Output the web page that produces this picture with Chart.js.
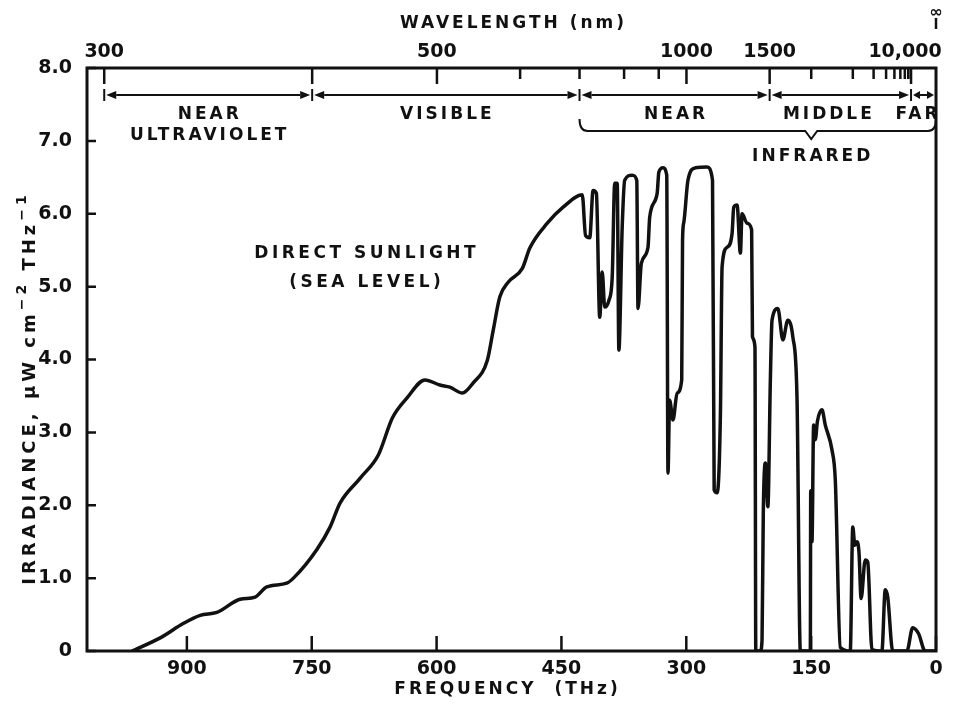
<!DOCTYPE html>
<html>
<head>
<meta charset="utf-8">
<script src="https://cdn.jsdelivr.net/npm/chart.js@4.4.0/dist/chart.umd.min.js"></script>
<style>
  body { margin: 0; background: #fff; }
  #wrap { width: 954px; height: 705px; }
</style>
</head>
<body>
<div id="wrap"><canvas id="chart" width="954" height="705"></canvas></div>
<script>
// direct sunlight at sea level
const frequencyTHz = [
  966, 932, 904, 884, 864, 836, 818, 804, 780, 772,
  744, 728, 716, 692, 670, 653, 635, 614, 596, 584,
  569, 556, 539, 532, 524, 514, 497, 488, 467, 448,
  425, 421, 416, 412, 408, 404, 401, 398, 393, 389,
  386, 383, 381, 377, 374, 365, 359.5, 358, 354, 346,
  344, 335, 333, 328, 323.5, 322, 320, 316, 311, 305.5,
  304.5, 303, 298, 289, 275, 268.5, 266.5, 263, 259, 257,
  251, 245, 243, 239, 235, 233, 227, 221.5, 220.5, 217.5,
  216.5, 211, 209, 207.5, 205, 202, 199, 197, 190, 184,
  178, 172, 167, 163, 151, 150.5, 149, 147, 145, 142.5,
  137, 133, 125, 121, 115, 103, 100, 97.5, 95, 92.5,
  90, 85, 82, 77, 65, 61, 58, 52, 35, 28,
  21, 13, 0
]
const irradiance = [
  0, 0.18, 0.38, 0.49, 0.53, 0.71, 0.74, 0.88, 0.93, 1.0,
  1.39, 1.70, 2.03, 2.37, 2.69, 3.20, 3.48, 3.72, 3.65, 3.62,
  3.54, 3.68, 3.99, 4.40, 4.86, 5.06, 5.25, 5.53, 5.87, 6.09,
  6.26, 5.70, 5.67, 6.32, 6.28, 4.58, 5.20, 4.72, 4.81, 5.13,
  6.42, 6.42, 4.13, 5.82, 6.46, 6.53, 6.46, 4.70, 5.32, 5.54,
  5.95, 6.28, 6.57, 6.63, 6.53, 2.44, 3.44, 3.17, 3.54, 3.72,
  5.64, 5.88, 6.46, 6.63, 6.64, 6.46, 2.21, 2.17, 3.26, 5.27,
  5.54, 5.73, 6.09, 6.12, 5.46, 6.0, 5.87, 5.78, 4.31, 4.17,
  0, 0, 0.15, 1.89, 2.58, 1.98, 3.72, 4.54, 4.70, 4.27,
  4.54, 4.31, 3.48, 0, 0, 2.2, 1.5, 3.1, 2.9, 3.15,
  3.31, 3.1, 2.76, 2.35, 0.05, 0, 1.70, 1.45, 1.50, 1.35,
  0.72, 1.25, 1.22, 0.02, 0, 0.84, 0.74, 0, 0, 0.32,
  0.24, 0, 0
]

const freqTicks = [900, 750, 600, 450, 300, 150, 0]
const irradianceTicks = [0, 1, 2, 3, 4, 5, 6, 7, 8]
const wavelengthTicks = [300, 400, 500, 600, 700, 800, 900, 1000, 1500, 2000, 3000, 4000, 5000, 6000, 7000, 8000, 9000, 10000]
const wavelengthLabels = ['300', '', '500', '', '', '', '', '1000', '1500', '', '', '', '', '', '', '', '', '10,000']
const bandEdgesNm = [300, 400, 700, 1500, 10000, Infinity]
const bandNames = [['NEAR', 'ULTRAVIOLET'], ['VISIBLE'], ['NEAR'], ['MIDDLE'], ['FAR']]

const ink = '#111'
const FONT = '"DejaVu Sans", sans-serif'
const C_NM_THZ = 299792.458
const toTHz = nm => (nm === Infinity ? 0 : C_NM_THZ / nm)

function spacedText(ctx, text, cx, cy, size, spacing) {
  ctx.font = `bold ${size}px ${FONT}`
  ctx.letterSpacing = spacing + 'px'
  ctx.textAlign = 'center'
  ctx.textBaseline = 'middle'
  ctx.fillText(text, cx + spacing / 2, cy)
}

// text with raised exponents, centred on 0,0 of the current transform
function runsText(ctx, runs, spacing) {
  ctx.letterSpacing = spacing + 'px'
  let total = 0
  runs.forEach(r => {
    ctx.font = `bold ${r.size}px ${FONT}`
    r.w = ctx.measureText(r.text).width
    total += r.w
  })
  let x = -total / 2
  ctx.textAlign = 'left'
  ctx.textBaseline = 'middle'
  runs.forEach(r => {
    ctx.font = `bold ${r.size}px ${FONT}`
    ctx.fillText(r.text, x, r.dy)
    x += r.w
  })
}

const paperPlugin = {
  id: 'paper',
  beforeDraw(chart) {
    const ctx = chart.ctx
    ctx.save()
    ctx.fillStyle = '#fff'
    ctx.fillRect(0, 0, chart.width, chart.height)
    ctx.restore()
  },
  afterDraw(chart) {
    const { ctx, chartArea: a, scales } = chart
    const x = scales.x
    const y = scales.y
    ctx.save()
    ctx.strokeStyle = ink
    ctx.fillStyle = ink
    ctx.lineCap = 'butt'

    // frame
    ctx.lineWidth = 3
    ctx.strokeRect(a.left, a.top, a.right - a.left, a.bottom - a.top)

    // inward tick marks
    ctx.lineWidth = 2.5
    ctx.beginPath()
    irradianceTicks.forEach(v => {
      const py = y.getPixelForValue(v)
      ctx.moveTo(a.left, py); ctx.lineTo(a.left + 9, py)
    })
    freqTicks.forEach(v => {
      const px = x.getPixelForValue(v)
      ctx.moveTo(px, a.bottom); ctx.lineTo(px, a.bottom - 15)
    })
    wavelengthTicks.forEach((nm, i) => {
      const px = x.getPixelForValue(toTHz(nm))
      const len = wavelengthLabels[i] || nm === 400 ? 16 : 11
      ctx.moveTo(px, a.top); ctx.lineTo(px, a.top + len)
    })
    ctx.stroke()

    // wavelength tick labels along the top
    ctx.font = `bold 19px ${FONT}`
    ctx.letterSpacing = '0px'
    ctx.textAlign = 'center'
    ctx.textBaseline = 'middle'
    wavelengthTicks.forEach((nm, i) => {
      if (!wavelengthLabels[i]) return
      const px = x.getPixelForValue(toTHz(nm)) + (nm === 10000 ? -6 : 0)
      ctx.fillText(wavelengthLabels[i], px, 52)
    })

    // infinite wavelength marker
    const pInf = x.getPixelForValue(0)
    ctx.lineWidth = 2.5
    ctx.beginPath()
    ctx.moveTo(pInf, 18); ctx.lineTo(pInf, 29)
    ctx.stroke()
    ctx.font = `bold 16px ${FONT}`
    ctx.fillText('\u221e', pInf, 13)

    // spectral bands with arrows
    const rowY = 95
    const edges = bandEdgesNm.map(nm => x.getPixelForValue(toTHz(nm)))
    ctx.lineWidth = 2
    edges.forEach(px => {
      ctx.beginPath(); ctx.moveTo(px, rowY - 6); ctx.lineTo(px, rowY + 6); ctx.stroke()
    })
    for (let i = 0; i < edges.length - 1; i++) {
      const l = edges[i] + 2, r = edges[i + 1] - 2
      const head = Math.min(10, (r - l) / 3)
      ctx.beginPath(); ctx.moveTo(l + head, rowY); ctx.lineTo(r - head, rowY); ctx.stroke()
      ctx.beginPath()
      ctx.moveTo(l, rowY); ctx.lineTo(l + head, rowY - 4); ctx.lineTo(l + head, rowY + 4); ctx.closePath()
      ctx.moveTo(r, rowY); ctx.lineTo(r - head, rowY - 4); ctx.lineTo(r - head, rowY + 4); ctx.closePath()
      ctx.fill()
    }
    const nameShift = [0, 0, 0, -13, -7]
    bandNames.forEach((lines, i) => {
      const cx = (edges[i] + edges[i + 1]) / 2 + nameShift[i]
      lines.forEach((t, j) => spacedText(ctx, t, cx, 115 + j * 21, 17, 3))
    })

    // infrared bracket
    const bl = edges[2], br = edges[5]
    const notch = x.getPixelForValue(toTHz(2000))
    ctx.lineWidth = 2
    ctx.beginPath()
    ctx.moveTo(bl, 119)
    ctx.quadraticCurveTo(bl, 131, bl + 8, 131)
    ctx.lineTo(notch - 6, 131)
    ctx.lineTo(notch, 139)
    ctx.lineTo(notch + 6, 131)
    ctx.lineTo(br - 8, 131)
    ctx.quadraticCurveTo(br, 131, br, 119)
    ctx.stroke()
    spacedText(ctx, 'INFRARED', notch, 157, 17, 3)

    // titles
    spacedText(ctx, 'WAVELENGTH (nm)', 512, 24, 17, 3)
    spacedText(ctx, 'FREQUENCY  (THz)', 506, 690, 17, 3)
    ctx.save()
    ctx.translate(30, 388)
    ctx.rotate(-Math.PI / 2)
    runsText(ctx, [
      { text: 'IRRADIANCE, \u03bcW cm', size: 18, dy: 0 },
      { text: '\u22122', size: 14, dy: -8 },
      { text: ' THz', size: 18, dy: 0 },
      { text: '\u22121', size: 14, dy: -8 }
    ], 4)
    ctx.restore()

    // curve label
    const lx = x.getPixelForValue(686)
    spacedText(ctx, 'DIRECT SUNLIGHT', lx, y.getPixelForValue(5.46), 17, 3.5)
    spacedText(ctx, '(SEA LEVEL)', lx, y.getPixelForValue(5.05), 17, 3.5)
    ctx.restore()
  }
}

const points = frequencyTHz.map((f, i) => ({ x: f, y: irradiance[i] }))
const tickFont = { family: FONT, size: 19, weight: 'bold' }

new Chart(document.getElementById('chart'), {
  type: 'line',
  data: {
    datasets: [{
      label: 'Direct sunlight (sea level)',
      data: points,
      borderColor: ink,
      borderWidth: 3.5,
      pointRadius: 0,
      fill: false,
      cubicInterpolationMode: 'monotone'
    }]
  },
  options: {
    responsive: false,
    devicePixelRatio: 1,
    animation: false,
    layout: { padding: { top: 38, right: 18, left: 0, bottom: 0 } },
    plugins: { legend: { display: false }, tooltip: { enabled: false } },
    scales: {
      x: {
        type: 'linear',
        position: 'bottom',
        reverse: true,
        min: 0,
        max: 1020,
        grid: { display: false },
        border: { display: false },
        afterBuildTicks: s => { s.ticks = freqTicks.map(v => ({ value: v })) },
        afterFit: s => { s.height = 54 },
        ticks: { autoSkip: false, maxRotation: 0, padding: -1, color: ink, font: tickFont }
      },
      xTop: {
        type: 'linear',
        position: 'top',
        reverse: true,
        min: 0,
        max: 1020,
        display: false,
        afterFit: s => { s.height = 30 }
      },
      y: {
        min: 0,
        max: 8,
        grid: { display: false },
        border: { display: false },
        afterBuildTicks: s => { s.ticks = irradianceTicks.map(v => ({ value: v })) },
        afterFit: s => { s.width = 87 },
        ticks: {
          padding: 7,
          color: ink,
          font: tickFont,
          callback: v => (v === 0 ? '0' : v.toFixed(1))
        }
      }
    }
  },
  plugins: [paperPlugin]
})
</script>
</body>
</html>
